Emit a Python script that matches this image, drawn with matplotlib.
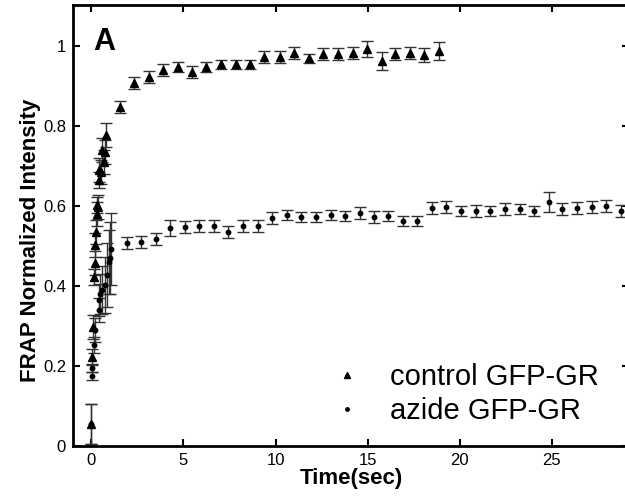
import matplotlib
matplotlib.use("Agg")
import matplotlib.pyplot as plt
from matplotlib.lines import Line2D

plt.rcParams['font.family'] = ['Liberation Sans', 'DejaVu Sans']

# control GFP-GR (triangles)
ctrl_t = [0.0, 0.05, 0.1, 0.13, 0.18, 0.22, 0.25, 0.31, 0.31, 0.35, 0.4, 0.4, 0.5, 0.58, 0.67, 0.72, 0.8,
          1.58, 2.30, 3.11, 3.90, 4.69, 5.47, 6.25, 7.05, 7.83, 8.60, 9.40, 10.23, 11.0, 11.8, 12.6,
          13.4, 14.2, 14.95, 15.76, 16.5, 17.3, 18.07, 18.9]
ctrl_y = [0.055, 0.223, 0.298, 0.423, 0.457, 0.502, 0.536, 0.58, 0.602, 0.598, 0.665, 0.69, 0.685, 0.74, 0.71, 0.735, 0.777,
          0.847, 0.907, 0.923, 0.940, 0.947, 0.936, 0.948, 0.954, 0.954, 0.954, 0.972, 0.973, 0.983, 0.969, 0.980,
          0.980, 0.982, 0.992, 0.963, 0.979, 0.982, 0.978, 0.988]
ctrl_e = [0.05, 0.02, 0.03, 0.02, 0.03, 0.03, 0.03, 0.03, 0.02, 0.03, 0.02, 0.03, 0.03, 0.03, 0.03, 0.03, 0.03,
          0.015, 0.015, 0.015, 0.015, 0.012, 0.015, 0.012, 0.012, 0.012, 0.012, 0.015, 0.015, 0.015, 0.012, 0.015,
          0.015, 0.015, 0.02, 0.022, 0.015, 0.015, 0.018, 0.022]

# azide GFP-GR (dots)
az_t = [0.0, 0.05, 0.05, 0.13, 0.2, 0.4, 0.4, 0.49, 0.6, 0.76, 0.85, 0.94, 1.03, 1.09,
        1.94, 2.72, 3.53, 4.29, 5.07, 5.87, 6.65, 7.43, 8.22, 9.04, 9.82, 10.6, 11.4, 12.2, 13.0,
        13.77, 14.57, 15.34, 16.12, 16.92, 17.7, 18.48, 19.27, 20.05, 20.87, 21.64, 22.45, 23.26,
        24.04, 24.85, 25.57, 26.4, 27.17, 27.97, 28.75]
az_y = [0.055, 0.175, 0.194, 0.252, 0.29, 0.34, 0.365, 0.38, 0.39, 0.4025, 0.428, 0.46, 0.47, 0.492,
        0.507, 0.511, 0.518, 0.544, 0.547, 0.550, 0.551, 0.534, 0.550, 0.550, 0.569, 0.578, 0.573, 0.573, 0.578,
        0.575, 0.582, 0.572, 0.575, 0.563, 0.563, 0.594, 0.598, 0.588, 0.588, 0.588, 0.592, 0.593,
        0.588, 0.609, 0.592, 0.594, 0.597, 0.600, 0.588]
az_e = [0.05, 0.01, 0.01, 0.02, 0.03, 0.03, 0.04, 0.05, 0.06, 0.07, 0.08, 0.08, 0.09, 0.09,
        0.015, 0.015, 0.015, 0.02, 0.015, 0.015, 0.015, 0.015, 0.015, 0.015, 0.015, 0.012, 0.012, 0.012, 0.012,
        0.012, 0.015, 0.015, 0.012, 0.012, 0.012, 0.015, 0.015, 0.012, 0.015, 0.012, 0.015, 0.012,
        0.012, 0.025, 0.015, 0.015, 0.015, 0.015, 0.015]

x_ticks = [0, 5, 10, 15, 20, 25]
y_ticks = [0, 0.2, 0.4, 0.6, 0.8, 1.0]
y_tick_labels = ["0", "0.2", "0.4", "0.6", "0.8", "1"]

fig = plt.figure(figsize=(6.25, 4.99), dpi=100)
ax = fig.add_axes([73/625, 53/499, 556/625, 441/499])

ax.errorbar(ctrl_t, ctrl_y, yerr=ctrl_e, fmt='^', color='black', ms=6, ecolor='#333333',
            elinewidth=1.0, capsize=4, capthick=1.0)
ax.errorbar(az_t, az_y, yerr=az_e, fmt='o', color='black', ms=3.2, ecolor='#333333',
            elinewidth=1.0, capsize=4, capthick=1.0)

ax.set_xlim(-1, 29.2)
ax.set_ylim(0, 1.1025)
ax.set_xticks(x_ticks)
ax.set_yticks(y_ticks)
ax.set_yticklabels(y_tick_labels)
ax.tick_params(direction='in', top=True, right=True, length=5, width=1.5, labelsize=12, pad=5)
for s in ax.spines.values():
    s.set_linewidth(2)

ax.set_xlabel('Time(sec)', fontsize=16, fontweight='bold', labelpad=0)
ax.set_ylabel('FRAP Normalized Intensity', fontsize=16, fontweight='bold')
ax.yaxis.set_label_coords(-0.057, 0.467)
ax.text(0.1, 1.011, 'A', fontsize=22, fontweight='bold', va='center', ha='left')

handles = [Line2D([], [], marker='^', ls='none', color='black', ms=4),
           Line2D([], [], marker='o', ls='none', color='black', ms=2.5)]
ax.legend(handles, ['control GFP-GR', 'azide GFP-GR'], loc='lower left',
          bbox_to_anchor=(0.419, -0.012), frameon=False, fontsize=21, handlelength=1.0,
          handletextpad=0.98, labelspacing=0.2)

fig.savefig('out.png', dpi=100)
